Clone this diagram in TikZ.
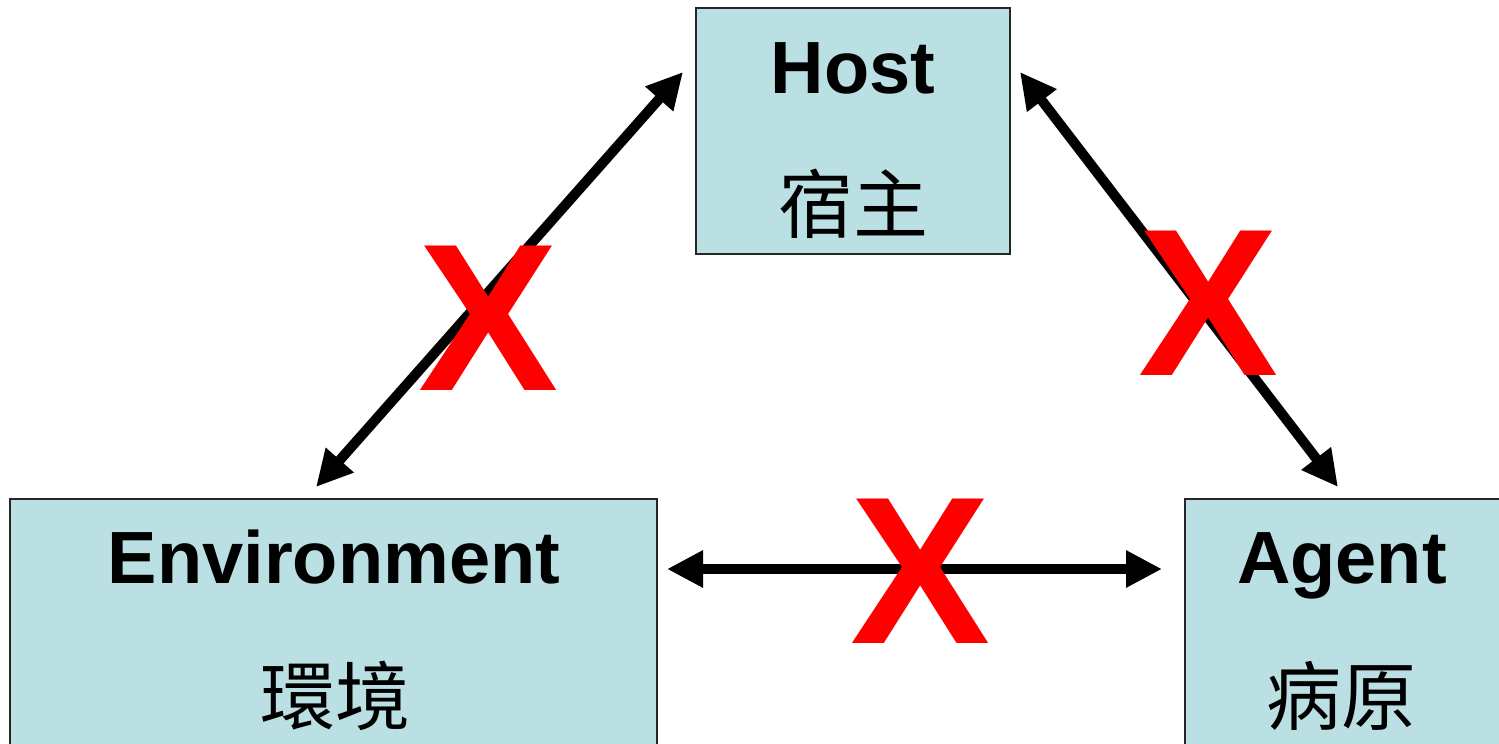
\documentclass[tikz,border=0pt]{standalone}
\usepackage{fontspec}
\setmainfont{Liberation Sans}
\newfontfamily\cjk{Noto Sans CJK TC}
\usetikzlibrary{arrows.meta}
\definecolor{boxfill}{RGB}{187,224,227}
\definecolor{xred}{RGB}{255,0,0}
\tikzset{
  box/.style={draw=black!85, line width=1.6pt, fill=boxfill, rectangle, inner sep=0pt},
  entxt/.style={anchor=base, inner sep=0pt, font=\bfseries\fontsize{74}{80}\selectfont},
  zhtxt/.style={anchor=base, inner sep=0pt, font=\cjk\fontsize{75}{80}\selectfont},
  link/.style={line width=10pt, {Triangle[length=36pt,width=35pt]}-{Triangle[length=36pt,width=35pt]}},
  cross/.style={anchor=base, inner sep=0pt, text=xred, font=\bfseries\fontsize{210}{220}\selectfont}
}
\begin{document}
\begin{tikzpicture}[x=1pt,y=-1pt]
\useasboundingbox (0,0) rectangle (1499,744);
\clip (0,0) rectangle (1499,744);
% boxes
\node[box, minimum width=314pt, minimum height=246pt] (host) at (853,131) {};
\node[box, minimum width=647pt, minimum height=330pt] (env) at (333.5,664) {};
\node[box, minimum width=318pt, minimum height=330pt] (agent) at (1344,664) {};
% texts
\node[entxt] (hostEn) at (853,93) {Host};
\node[zhtxt] (hostZh) at (853,232) {宿主};
\node[entxt] (envEn) at (334,583) {Environment};
\node[zhtxt] (envZh) at (335,724) {環境};
\node[entxt] (agentEn) at (1342,583) {Agent};
\node[zhtxt] (agentZh) at (1341,724) {病原};
% arrow end points
\coordinate (eh1) at (316,487);
\coordinate (eh2) at (683,72);
\coordinate (ha1) at (1020,72);
\coordinate (ha2) at (1338,487);
\coordinate (ea1) at (667,569);
\coordinate (ea2) at (1162,569);
\draw[link] (eh1) -- (eh2);
\draw[link] (ha1) -- (ha2);
\draw[link] (ea1) -- (ea2);
% crosses
\node[cross] (x1) at (489,390) {X};
\node[cross] (x2) at (1209,375) {X};
\node[cross] (x3) at (921,643) {X};
\end{tikzpicture}
\end{document}
